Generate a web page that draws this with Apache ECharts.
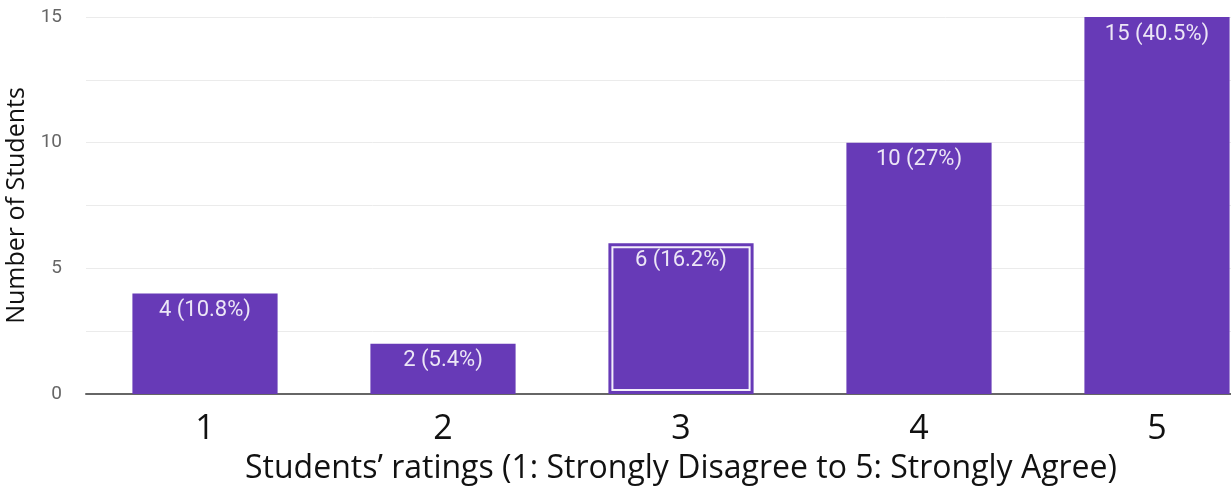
<!DOCTYPE html>
<html><head><meta charset="utf-8">
<script src="https://cdn.jsdelivr.net/npm/echarts@6/dist/echarts.min.js"></script>
<style>html,body{margin:0;padding:0;background:#fff}#c{width:1231px;height:493px}</style>
</head><body><div id="c"></div>
<script>
const categories = ['1','2','3','4','5'];
const counts = [4, 2, 6, 10, 15];
const percents = ['10.8%', '5.4%', '16.2%', '27%', '40.5%'];
const yTicks = [0, 5, 10, 15];
const highlighted = [null, null, 6, null, null];

const chart = echarts.init(document.getElementById('c'));
chart.setOption({
  animation: false,
  grid: {left: 86, top: 17, width: 1190, height: 377, outerBoundsMode: 'none', containLabel: false},
  xAxis: {
    type: 'category', data: categories,
    axisLine: {lineStyle: {color: '#666', width: 2}},
    axisTick: {show: false},
    axisLabel: {fontFamily: 'Open Sans', fontSize: 34, color: '#111', margin: 18},
    name: 'Students\u2019 ratings (1: Strongly Disagree to 5: Strongly Agree)',
    nameLocation: 'middle', nameGap: 59,
    nameTextStyle: {fontFamily: 'Open Sans', fontSize: 32, color: '#111'}
  },
  yAxis: {
    type: 'value', min: 0, max: 15, interval: 2.5,
    axisLine: {show: false}, axisTick: {show: false},
    splitLine: {lineStyle: {color: '#ebebeb', width: 1}},
    axisLabel: {
      fontFamily: 'Roboto', fontSize: 19, color: '#666', margin: 24,
      formatter: v => yTicks.includes(v) ? String(v) : ''
    },
    name: 'Number of Students', nameLocation: 'middle', nameGap: 54,
    nameTextStyle: {fontFamily: 'Open Sans', fontSize: 25, color: '#111'}
  },
  series: [{
    type: 'bar', data: counts, barWidth: '61%',
    itemStyle: {color: '#673ab7'},
    label: {
      show: true, position: 'insideTop', distance: 6,
      fontFamily: 'Roboto', fontSize: 22, color: '#ece6f6',
      formatter: p => p.value + ' (' + percents[p.dataIndex] + ')'
    }
  }, {
    type: 'custom', z: 3,
    data: highlighted.map((v, i) => [i, v]),
    renderItem: (params, api) => {
      const v = api.value(1);
      if (v === null || isNaN(v)) return null;
      const top = api.coord([api.value(0), v]);
      const bottom = api.coord([api.value(0), 0]);
      const w = api.size([1, 0])[0] * 0.61;
      const inset = 4;
      return {
        type: 'rect',
        shape: {x: top[0] - w / 2 + inset, y: top[1] + inset, width: w - 2 * inset, height: bottom[1] - top[1] - 2 * inset},
        style: {fill: 'none', stroke: '#f3eefb', lineWidth: 2}
      };
    }
  }]
});
</script></body></html>
